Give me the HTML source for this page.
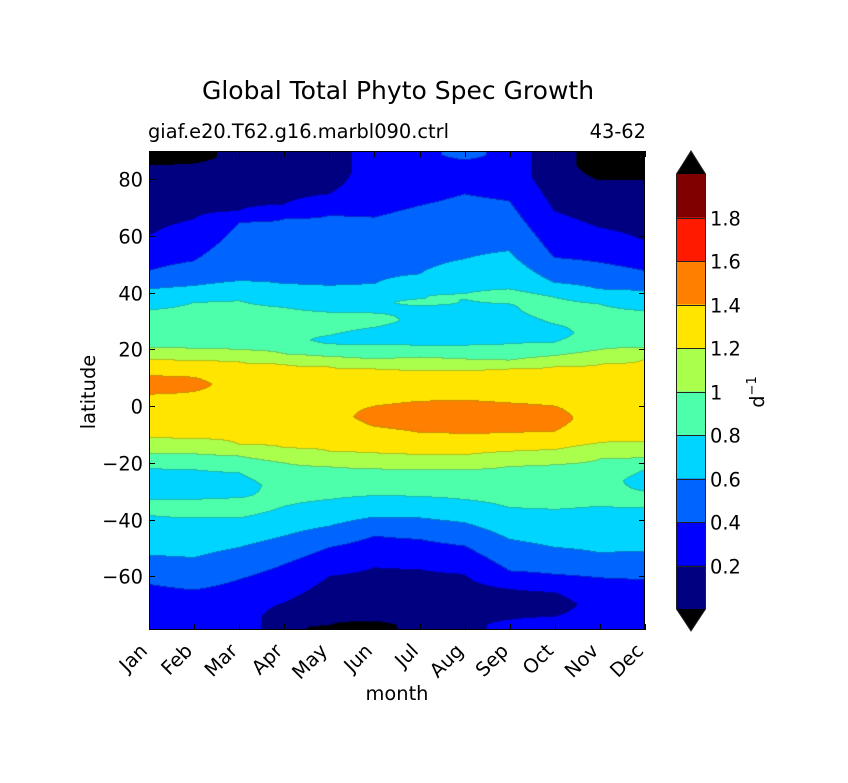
<!DOCTYPE html>
<html><head><meta charset="utf-8">
<style>
body{margin:0;background:#fff;width:848px;height:783px;overflow:hidden;position:relative;font-family:"DejaVu Sans","Liberation Sans",sans-serif}
#field{position:absolute;left:149px;top:151px}
svg{position:absolute;left:0;top:0}
</style></head>
<body>
<canvas id="field" width="496" height="479"></canvas>
<svg id="chart" width="848" height="783"></svg>
<script>
const months=['Jan','Feb','Mar','Apr','May','Jun','Jul','Aug','Sep','Oct','Nov','Dec'];
const latTicks=[80,60,40,20,0,-20,-40,-60];
const latTickLabels=['80','60','40','20','0','\u221220','\u221240','\u221260'];
const cbLevels=[0,0.2,0.4,0.6,0.8,1.0,1.2,1.4,1.6,1.8,2.0];
const cbLabels=['0.2','0.4','0.6','0.8','1','1.2','1.4','1.6','1.8'];
const bandColors=['#000080','#0000ff','#0064ff','#00d5ff','#4dffaa','#aaff4d','#ffe500','#ff7f00','#ff1a00','#800000'];
const bandValue={K:-0.1,N:0.1,B:0.3,M:0.5,C:0.7,G:0.9,L:1.1,Y:1.3,O:1.5};
const monthBands=[
['K','N','B','M','C','G','L','Y','O','Y','L','G','C','G','C','M','B'],
['K','N','B','M','C','G','L','Y','O','Y','L','G','C','G','C','M','B'],
['N','B','M','C','G','L','Y','L','G','C','G','C','M','B'],
['N','B','M','C','G','L','Y','L','G','C','M','B','N'],
['N','B','M','C','G','C','G','L','Y','L','G','C','M','B','N','K'],
['B','M','C','G','C','G','L','Y','O','Y','L','G','C','M','B','N','K'],
['B','M','C','G','C','G','L','Y','O','Y','L','G','C','M','B','N'],
['M','B','M','C','G','C','G','L','Y','O','Y','L','G','C','M','B','N'],
['B','M','C','G','C','G','L','Y','O','Y','L','G','C','M','B','N','B'],
['N','B','M','C','G','C','G','L','Y','O','Y','L','G','C','M','B','N','B'],
['K','N','B','M','C','G','L','Y','L','G','C','M','B'],
['K','N','B','M','C','G','L','Y','L','G','C','G','C','M','B']];
const monthEdges=[
[85,60,47.6,41.1,33.7,20.5,16.1,10.6,4.0,-11.4,-17,-22.2,-33.1,-38.7,-52.8,-63],
[85.5,65.8,51,42.3,36.4,20.1,16,10,5,-11.6,-17,-22.6,-33.1,-39.6,-53.6,-65],
[68.7,64.6,44,37,19.7,15.5,-13.7,-17.8,-23.7,-32.5,-39.6,-50,-61.3],
[71,65.8,42.9,34.6,18.2,14.6,-14.9,-20.2,-35.5,-46,-56,-69.5],
[74.6,67,42.3,32.9,24.7,21.7,17.3,13.7,-16.1,-21.6,-33.1,-42.5,-50,-60.2,-77.5],
[66.4,42.9,32.6,27.6,21.5,16.4,12.9,-0.2,-7.3,-16.7,-22.3,-31.7,-39.3,-46,-57.2,-76],
[70.5,46.4,37.6,35.2,21.2,17.1,12.4,1.5,-9.4,-17.3,-22.6,-32,-39.6,-47.2,-57.8],
[86.6,74.6,51.7,39.4,37.5,21.2,16.4,12.4,1.9,-9.9,-17.3,-22.6,-33.1,-41.3,-49.5,-59.5],
[72.2,54.6,41.1,35.8,21.7,16,12.9,0.9,-9.6,-16.1,-21.4,-36,-47.2,-58.3,-64.8,-75.4],
[68.7,52.2,43.4,38.2,28.7,22.3,17.6,13.7,-0.2,-9,-15.5,-20.8,-36.6,-50,-59.5,-65.9,-74.3],
[79.5,62.8,50.5,41.1,35.8,19.7,14.6,-13.1,-18.8,-35.5,-51.9,-60.7],
[79.5,58.1,47.6,40.5,33.4,20.5,16.4,-12.6,-18.4,-22.6,-30.2,-36,-51.3,-61.3]];

const PX0=149,PX1=645,PY0=151,PY1=630;
const LAT_TOP=90,LAT_BOT=-78.9;
function xScale(m){return PX0+m*(PX1-PX0)/11;}
function yScale(lat){return 406-2.8375*lat;}
function latAt(y){return (406-y)/2.8375;}
const CB_X=676,CB_W=30,CB_TOP=174,CB_BOT=609;
function cbScale(v){return CB_BOT-(v/2)*(CB_BOT-CB_TOP);}

function profileNodes(m){
  const b=monthBands[m],e=monthEdges[m],n=[[LAT_TOP+1,bandValue[b[0]]]];
  for(let k=0;k<b.length;k++){
    const top=k===0?LAT_TOP:e[k-1],bot=k===b.length-1?LAT_BOT:e[k];
    n.push([(top+bot)/2,bandValue[b[k]]]);
    if(k<b.length-1)n.push([e[k],(bandValue[b[k]]+bandValue[b[k+1]])/2]);
  }
  n.push([LAT_BOT-1,bandValue[b[b.length-1]]]);
  return n;
}
function evalProfile(n,lat){
  for(let i=0;i<n.length-1;i++){
    const a=n[i],c=n[i+1];
    if(lat<=a[0]&&lat>=c[0]){const t=(a[0]-lat)/((a[0]-c[0])||1);return a[1]+t*(c[1]-a[1]);}
  }
  return lat>n[0][0]?n[0][1]:n[n.length-1][1];
}
function hex(c){return [parseInt(c.substr(1,2),16),parseInt(c.substr(3,2),16),parseInt(c.substr(5,2),16)];}
const rgb=bandColors.map(hex);
function bandIdx(v){if(v<0)return -1;if(v>=2)return 10;return Math.min(9,Math.floor(v/0.2+1e-9));}
function colOf(i){return (i<0||i>9)?[0,0,0]:rgb[i];}

(function(){
  const cv=document.getElementById('field'),ctx=cv.getContext('2d');
  const W=cv.width,H=cv.height,img=ctx.createImageData(W,H);
  const cols=[];
  for(let m=0;m<12;m++){const n=profileNodes(m),arr=new Float32Array(H);
    for(let j=0;j<H;j++)arr[j]=evalProfile(n,latAt(PY0+j+0.5));cols.push(arr);}
  const idx=new Int8Array(W*H);
  for(let i=0;i<W;i++){
    const mf=Math.min(10.9999,Math.max(0,(i+0.5)*11/(PX1-PX0))),m0=Math.floor(mf),t=mf-m0;
    for(let j=0;j<H;j++){const v=cols[m0][j]*(1-t)+cols[m0+1][j]*t;idx[j*W+i]=bandIdx(v);}
  }
  for(let j=0;j<H;j++)for(let i=0;i<W;i++){
    const k=j*W+i,b=idx[k];let c=colOf(b);
    const r=i+1<W?idx[k+1]:b,d=j+1<H?idx[k+W]:b;
    if((r!==b||d!==b)&&b>=0&&b<=9){const o=colOf(r!==b?r:d);c=[(c[0]+o[0])*0.4,(c[1]+o[1])*0.4,(c[2]+o[2])*0.4];}
    img.data[k*4]=c[0];img.data[k*4+1]=c[1];img.data[k*4+2]=c[2];img.data[k*4+3]=255;
  }
  ctx.putImageData(img,0,0);
})();

const NS='http://www.w3.org/2000/svg',svg=document.getElementById('chart');
const FF='DejaVu Sans, Liberation Sans, sans-serif';
function el(tag,attrs,parent){const e=document.createElementNS(NS,tag);for(const k in attrs)e.setAttribute(k,attrs[k]);(parent||svg).appendChild(e);return e;}
function txt(s,attrs){const e=el('text',Object.assign({'font-family':FF,fill:'#000'},attrs));e.textContent=s;return e;}

let t=txt('Global Total Phyto Spec Growth',{x:398,y:99,'font-size':25,'text-anchor':'middle'});


t=txt('giaf.e20.T62.g16.marbl090.ctrl',{x:148,y:138,'font-size':19.4});


t=txt('43-62',{x:646,y:138,'font-size':19.4,'text-anchor':'end'});



const frame=el('rect',{x:PX0+0.5,y:PY0+0.5,width:PX1-PX0-1,height:PY1-PY0-1,fill:'none',stroke:'#000','stroke-width':1});



latTicks.forEach((lat,i)=>{
  const y=Math.round(yScale(lat))+0.5;
  const tk=el('path',{d:`M${PX0} ${y}h6M${PX1} ${y}h-6`,stroke:'#000','stroke-width':1});
  
  
  const lb=txt(latTickLabels[i],{x:143,y:y+7,'font-size':19.4,'text-anchor':'end'});
  
  
});
months.forEach((m,i)=>{
  const x=Math.round(xScale(i))+0.5;
  const tk=el('path',{d:`M${x} ${PY1}v-6M${x} ${PY0}v6`,stroke:'#000','stroke-width':1});
  
  
  const ax=x-1,ay=652;
  const lb=txt(m,{x:ax,y:ay,'font-size':19.4,'text-anchor':'end',transform:`rotate(-45 ${ax} ${ay})`});
  
  
});
t=txt('month',{x:397,y:700,'font-size':19.4,'text-anchor':'middle'});


t=txt('latitude',{x:95,y:392,'font-size':19.4,'text-anchor':'middle',transform:'rotate(-90 95 392)'});



for(let k=0;k<cbLevels.length-1;k++){
  const y0=cbScale(cbLevels[k+1]),y1=cbScale(cbLevels[k]);
  const r=el('rect',{x:CB_X,y:y0,width:CB_W,height:y1-y0,fill:bandColors[k]});
  
  
}
for(let k=1;k<cbLevels.length-1;k++){
  const y=Math.round(cbScale(cbLevels[k]))+0.5;
  el('path',{d:`M${CB_X} ${y}h${CB_W}`,stroke:'#222','stroke-width':1});
  const lb=txt(cbLabels[k-1],{x:710,y:y+7,'font-size':19.4});
  
  
}
let tri=el('path',{d:`M${CB_X} ${CB_TOP}L${CB_X+CB_W/2} 151L${CB_X+CB_W} ${CB_TOP}Z`,fill:'#000'});


tri=el('path',{d:`M${CB_X} ${CB_BOT}L${CB_X+CB_W/2} 631L${CB_X+CB_W} ${CB_BOT}Z`,fill:'#000'});


const cbo=el('path',{d:`M${CB_X+0.5} ${CB_BOT}V${CB_TOP}L${CB_X+CB_W/2} 151L${CB_X+CB_W-0.5} ${CB_TOP}V${CB_BOT}L${CB_X+CB_W/2} 631Z`,fill:'none',stroke:'#222','stroke-width':1});


const unit=el('text',{x:764,y:392,'font-size':19.4,'text-anchor':'middle','font-family':FF,transform:'rotate(-90 764 392)'});


unit.appendChild(document.createTextNode('d'));
const sup=el('tspan',{dy:-8,'font-size':13},unit);sup.textContent='\u22121';
</script>
</body></html>
